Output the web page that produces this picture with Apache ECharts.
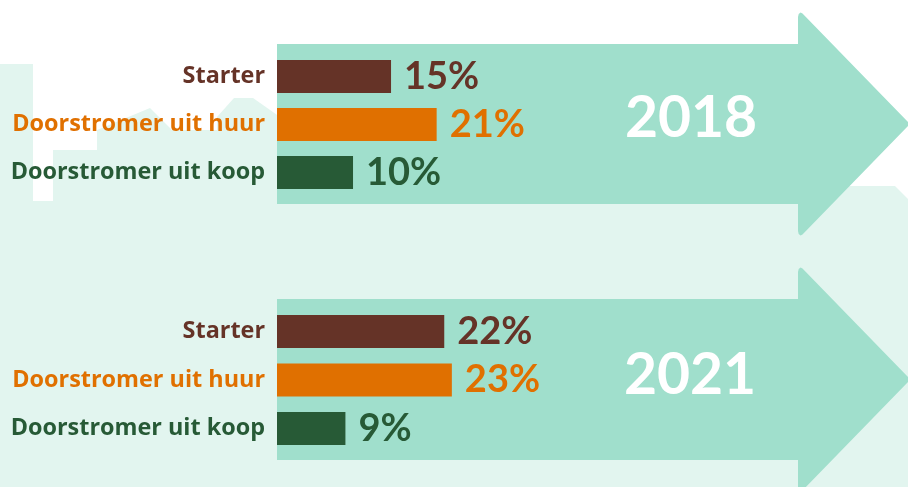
<!DOCTYPE html>
<html>
<head>
<meta charset="utf-8">
<script src="https://cdn.jsdelivr.net/npm/echarts@6/dist/echarts.min.js"></script>
<style>html,body{margin:0;padding:0;background:#fff}#c{width:908px;height:487px}</style>
</head>
<body>
<div id="c"></div>
<script>
const categories = ['Starter', 'Doorstromer uit huur', 'Doorstromer uit koop'];
const values2018 = [15, 21, 10];
const values2021 = [22, 23, 9];
const years = ['2018', '2021'];

const colors = ['#653327', '#E07000', '#275A36'];
const mint = '#E2F5EF';
const arrowColor = '#A0DFCC';

function arrowPoints(x0, x1, top, bot, headTop, headBot) {
  const mid = (headTop + headBot) / 2;
  const tipX = x1 + (mid - headTop);
  return [
    [x0, top], [x1, top], [x1, headTop + 5], [x1 + 0.7, headTop + 2], [x1 + 2.5, headTop + 0.4], [x1 + 4.5, headTop + 1.5],
    [tipX, mid],
    [x1 + 4.5, headBot - 1.5], [x1 + 2.5, headBot - 0.4], [x1 + 0.7, headBot - 2], [x1, headBot - 5],
    [x1, bot], [x0, bot]
  ];
}

function makeSeries(vals, idx) {
  return {
    type: 'bar',
    xAxisIndex: idx, yAxisIndex: idx,
    barWidth: 33,
    z: 5,
    data: vals.map((v, i) => ({
      value: v,
      itemStyle: { color: colors[i] },
      label: { color: colors[i] }
    })),
    label: {
      show: true, position: 'right', distance: 13,
      formatter: '{c}%',
      fontFamily: 'Lato', fontWeight: 'bold', fontSize: 38
    },
    silent: true
  };
}

function yAx(idx) {
  return {
    type: 'category', gridIndex: idx, data: categories, inverse: true,
    axisLine: { show: false }, axisTick: { show: false }, splitLine: { show: false },
    axisLabel: {
      margin: 12,
      fontFamily: 'Open Sans', fontWeight: 'bold', fontSize: 23.4,
      color: (v, i) => colors[i]
    }
  };
}
function xAx(idx) {
  return { type: 'value', gridIndex: idx, min: 0, max: 83, show: false, splitLine: { show: false } };
}

const chart = echarts.init(document.getElementById('c'), null, { renderer: 'canvas' });
chart.setOption({
  backgroundColor: '#ffffff',
  animation: false,
  grid: [
    { left: 277, right: 0, top: 52.5, height: 144, containLabel: false },
    { left: 277, right: 0, top: 307.25, height: 145.5, containLabel: false }
  ],
  xAxis: [xAx(0), xAx(1)],
  yAxis: [yAx(0), yAx(1)],
  series: [makeSeries(values2018, 0), makeSeries(values2021, 1)],
  graphic: [
    {
      type: 'polygon', z: -10, silent: true,
      shape: { points: [[0, 64], [33, 64], [33, 201], [53, 201], [53, 150], [97, 150], [97, 130], [150, 108], [172, 130], [217, 130], [217, 117], [234, 98], [253, 98], [280, 117], [600, 117], [600, 186], [895, 186], [908, 199], [908, 487], [0, 487]] },
      style: { fill: mint }
    },
    {
      type: 'polygon', z: -5, silent: true,
      shape: { points: arrowPoints(277, 798, 44, 204, 12, 236) },
      style: { fill: arrowColor }
    },
    {
      type: 'polygon', z: -5, silent: true,
      shape: { points: arrowPoints(277, 798, 299, 460, 267, 492) },
      style: { fill: arrowColor }
    },
    {
      type: 'text', z: 10, silent: true, x: 691, y: 119,
      style: { text: years[0], fill: '#ffffff', font: 'bold 57px Lato', align: 'center', verticalAlign: 'middle' }
    },
    {
      type: 'text', z: 10, silent: true, x: 690, y: 376,
      style: { text: years[1], fill: '#ffffff', font: 'bold 57px Lato', align: 'center', verticalAlign: 'middle' }
    }
  ]
});
</script>
</body>
</html>
